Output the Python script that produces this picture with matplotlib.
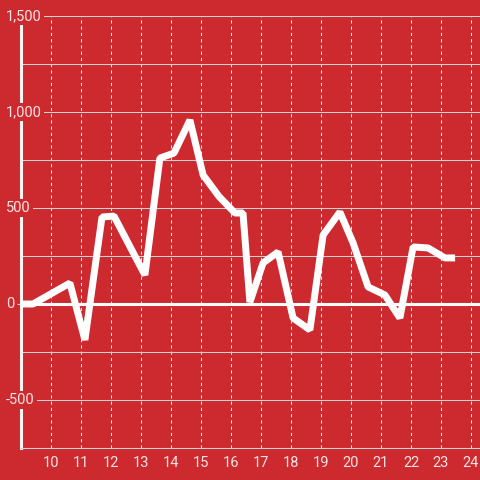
import matplotlib
matplotlib.use('Agg')
import matplotlib.pyplot as plt
from matplotlib.ticker import MultipleLocator
import matplotlib.transforms as mtransforms

x_vals = [9.0, 9.4, 10.63, 11.13, 11.7, 12.1, 13.13, 13.63, 14.1, 14.63,
          15.07, 15.6, 16.13, 16.4, 16.63, 17.07, 17.57, 18.07, 18.63,
          19.07, 19.63, 20.07, 20.57, 21.13, 21.63, 22.07, 22.57, 23.13, 23.47]
y_vals = [0, 0, 109, -187, 453, 458, 151, 760, 786, 958,
          672, 560, 474, 474, 10, 214, 271, -73, -135,
          359, 479, 318, 89, 47, -73, 297, 292, 240, 240]
x_ticks = list(range(10, 25))
y_ticks = [-500, 0, 500, 1000, 1500]

bg = '#cd2a2f'
txt = '#f5e4e4'
grid_c = '#d2d2d2'

plt.rcParams['font.family'] = ['Roboto', 'DejaVu Sans']

fig = plt.figure(figsize=(4.8, 4.8), dpi=100, facecolor=bg)
ax = fig.add_axes([21 / 480, 32 / 480, 459 / 480, 432 / 480])
ax.set_facecolor(bg)

ax.plot(x_vals, y_vals, color='white', linewidth=5, solid_joinstyle='bevel',
        solid_capstyle='butt', zorder=3)
ax.axhline(0, color='white', linewidth=2.2, zorder=2)

ax.set_xlim(9, 24.3)
ax.set_ylim(-750, 1500)

ax.set_xticks(x_ticks)
ax.set_yticks(y_ticks)
ax.yaxis.set_minor_locator(MultipleLocator(250))
ax.set_yticklabels([])

ax.grid(axis='x', color='#f0f0f0', linestyle=(0, (3, 3)), linewidth=0.75)
ax.grid(axis='y', which='both', color=grid_c, linewidth=0.75)
ax.set_axisbelow(True)

for s in ['top', 'right']:
    ax.spines[s].set_visible(False)
ax.spines['bottom'].set_color(grid_c)
ax.spines['bottom'].set_linewidth(0.75)
ax.spines['left'].set_color('#f5f5f5')
ax.spines['left'].set_linewidth(2.2)

ax.tick_params(axis='x', length=0, pad=6, labelsize=10.5, labelcolor=txt)
ax.tick_params(axis='y', which='major', length=3, color=grid_c)
ax.tick_params(axis='y', which='minor', length=0)

# y labels sit over the axis line with a background patch
trans = mtransforms.blended_transform_factory(fig.transFigure, ax.transData)
for v in y_ticks:
    ax.text(6 / 480, v, f'{v:,}', transform=trans, ha='left', va='center',
            fontsize=10.5, color=txt, zorder=5, clip_on=False,
            bbox=dict(facecolor=bg, edgecolor='none', pad=1.5))

fig.savefig('out.png', dpi=100, facecolor=bg)
